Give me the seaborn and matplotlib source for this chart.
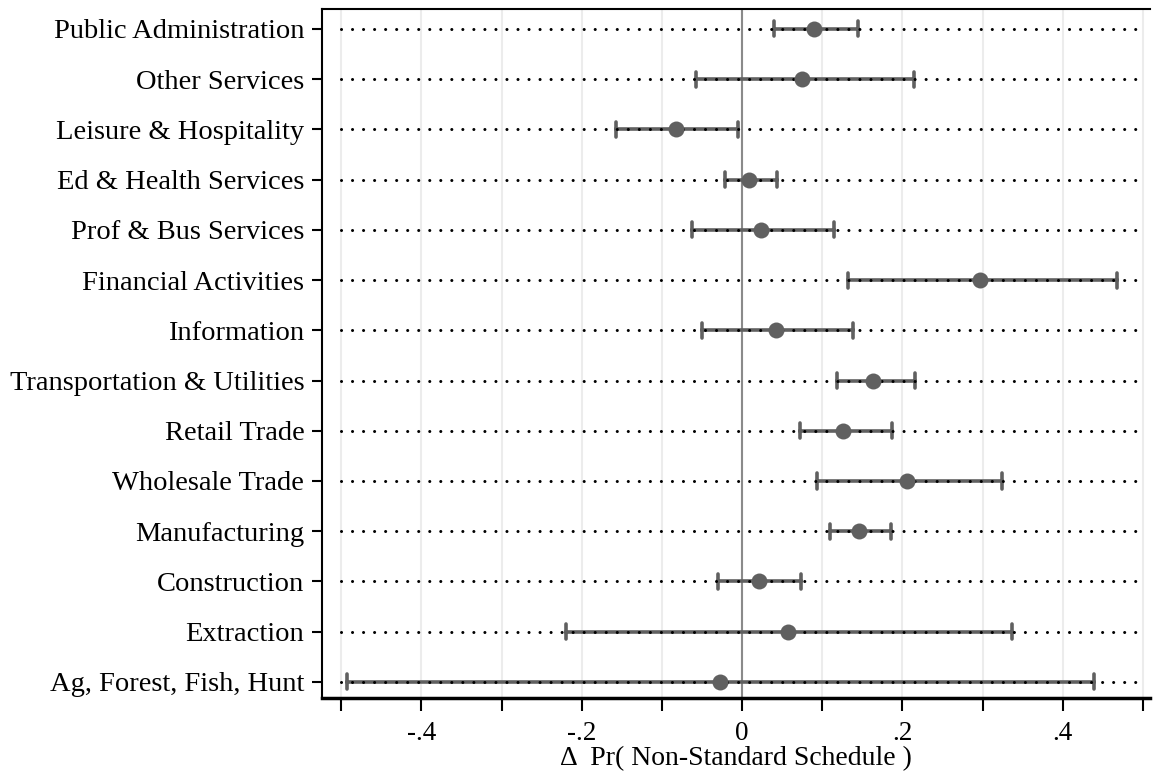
import numpy as np
import pandas as pd
import matplotlib
matplotlib.use("Agg")
import matplotlib.pyplot as plt
import seaborn as sns

# industries listed top to bottom
industries = ["Public Administration", "Other Services", "Leisure & Hospitality",
              "Ed & Health Services", "Prof & Bus Services", "Financial Activities",
              "Information", "Transportation & Utilities", "Retail Trade",
              "Wholesale Trade", "Manufacturing", "Construction", "Extraction",
              "Ag, Forest, Fish, Hunt"]
estimates = [0.090, 0.075, -0.082, 0.008, 0.023, 0.297, 0.042,
             0.163, 0.126, 0.206, 0.146, 0.021, 0.057, -0.028]
ci_low = [0.040, -0.057, -0.157, -0.021, -0.062, 0.132, -0.050,
          0.118, 0.072, 0.094, 0.110, -0.030, -0.219, -0.493]
ci_high = [0.145, 0.215, -0.005, 0.043, 0.115, 0.468, 0.138,
           0.216, 0.187, 0.324, 0.186, 0.074, 0.337, 0.439]
tick_vals = [-0.5, -0.4, -0.3, -0.2, -0.1, 0.0, 0.1, 0.2, 0.3, 0.4, 0.5]
tick_labels = ["", "-.4", "", "-.2", "", "0", "", ".2", "", ".4", ""]

sns.set_style("white")
plt.rcParams['font.family'] = ['Liberation Serif', 'DejaVu Serif']
plt.rcParams['text.color'] = "black"
plt.rcParams['axes.labelcolor'] = "black"
plt.rcParams['xtick.color'] = "black"
plt.rcParams['ytick.color'] = "black"

# long form: lo / est / hi rows per industry; median gives estimate, min/max give CI
df = pd.DataFrame({
    "industry": industries * 3,
    "value": ci_low + estimates + ci_high,
})

fig = plt.figure(figsize=(11.56, 7.83), dpi=100)
ax = fig.add_axes([0.2785, 0.1086, 0.7165, 0.8793])

# light vertical grid
for v in tick_vals:
    ax.axvline(v, color="#ececec", lw=1.6, zorder=0)
ax.axvline(0, color="#8a8a8a", lw=2, zorder=1)

sns.pointplot(data=df, x="value", y="industry", order=industries, orient="h",
              estimator="median", errorbar=lambda v: (v.min(), v.max()),
              capsize=0.3, color="#606060", linestyle="none", markers="o",
              markersize=11.5, markeredgewidth=0,
              err_kws={"linewidth": 2.6}, ax=ax, zorder=3)

# thinner caps (vertical segments)
for ln in ax.lines:
    xd = np.asarray(ln.get_xdata(), dtype=float)
    yd = np.asarray(ln.get_ydata(), dtype=float)
    if ln.get_marker() != "o" and len(xd) == 2 and xd[0] == xd[1] and yd[0] != yd[1]:
        ln.set_linewidth(1.5)

# dotted guide lines
for i in range(len(industries)):
    ax.plot([-0.5, 0.5], [i, i], color="black", lw=2.2,
            linestyle=(0, (0.01, 3.6)), dash_capstyle="round", zorder=4)

# points on top
for coll in ax.collections:
    coll.set_zorder(5)
for ln in ax.lines:
    if ln.get_marker() == "o":
        ln.set_zorder(5)

ax.set_xlim(-0.524, 0.509)
ax.set_ylim(13.32, -0.388)
ax.set_xticks(tick_vals)
ax.set_xticklabels(tick_labels)
ax.set_xlabel("Δ  Pr( Non-Standard Schedule )", fontsize=20, labelpad=0)
ax.set_ylabel("")

ax.tick_params(axis="x", direction="out", length=9.5, width=1.5, labelsize=19.5, pad=7,
               bottom=True, colors="black")
ax.tick_params(axis="y", direction="out", length=7.2, width=1.5, labelsize=20.5, pad=5.5,
               left=True, colors="black")

ax.spines["right"].set_visible(False)
ax.spines["top"].set_linewidth(1.5)
ax.spines["left"].set_linewidth(1.5)
ax.spines["bottom"].set_linewidth(2.5)
for s in ["top", "left", "bottom"]:
    ax.spines[s].set_color("black")

fig.savefig("out.png", dpi=100)
